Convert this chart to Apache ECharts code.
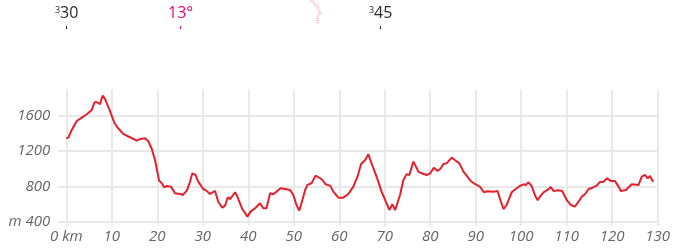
<!DOCTYPE html>
<html>
<head>
<meta charset="utf-8">
<script src="https://cdn.jsdelivr.net/npm/echarts@6/dist/echarts.min.js"></script>
<style>
html,body{margin:0;padding:0;background:#fff;}
#c{width:676px;height:249px;}
</style>
</head>
<body>
<div id="c"></div>
<script>
// distance along route (km)
var distKm = [0, 0.45, 1.2, 2.3, 3.4, 4.5, 5.6, 6.2, 6.8, 7.4, 8.0, 8.5, 9.5, 10.6, 11.4, 12.5, 14.0, 15.5, 16.3, 17.3,
  18.0, 18.8, 19.5, 20.4, 21.0, 21.5, 22.1, 23.0, 23.9, 25.0, 25.6, 26.5, 27.2, 27.7, 28.4, 29.0, 30.1, 30.8, 31.6, 32.7,
  33.4, 34.3, 34.9, 35.5, 36.0, 37.1, 37.6, 38.6, 39.8, 40.5, 41.5, 42.6, 43.3, 44.0, 44.8, 45.5, 46.2, 47.1, 48.1, 49.2,
  49.9, 50.6, 51.2, 51.7, 52.5, 53.0, 53.9, 54.8, 55.8, 56.3, 57.0, 58.0, 58.7, 59.8, 60.9, 62.0, 63.1, 64.0, 64.8, 65.7,
  66.4, 67.1, 68.2, 69.3, 70.1, 71.0, 71.7, 72.3, 73.4, 74.1, 74.8, 75.4, 76.3, 77.4, 78.1, 79.2, 80.0, 80.8, 81.6, 82.2,
  82.9, 83.6, 84.7, 85.4, 86.4, 87.3, 88.0, 88.9, 89.8, 90.9, 91.8, 92.6, 93.9, 94.8, 95.3, 96.1, 96.8, 97.9, 99.0, 99.7,
  100.5, 101.0, 101.6, 102.3, 103.0, 103.6, 104.1, 104.9, 105.8, 106.5, 107.1, 108.2, 109.0, 110.0, 110.9, 111.8, 112.6, 113.3, 114.0, 114.8,
  115.7, 116.6, 117.2, 118.1, 118.9, 119.7, 120.6, 121.4, 121.9, 123.0, 124.3, 125.8, 126.5, 127.2, 127.8, 128.3, 129.0];
// elevation (m)
var elevM = [1347, 1354, 1441, 1543, 1581, 1619, 1668, 1755, 1755, 1732, 1831, 1793, 1668, 1517, 1460, 1396, 1358, 1320, 1339, 1347,
  1316, 1225, 1100, 866, 836, 790, 805, 798, 722, 715, 703, 752, 855, 949, 930, 855, 771, 752, 715, 749,
  627, 559, 582, 677, 656, 734, 685, 553, 458, 514, 553, 610, 553, 553, 722, 711, 741, 779, 771, 760,
  703, 590, 526, 610, 760, 817, 836, 923, 893, 873, 824, 809, 741, 673, 673, 715, 798, 911, 1055, 1100,
  1165, 1062, 911, 741, 646, 533, 597, 533, 712, 873, 940, 930, 1082, 968, 949, 930, 949, 1013, 975, 998,
  1055, 1062, 1127, 1100, 1062, 968, 923, 862, 828, 798, 734, 745, 741, 749, 665, 544, 590, 734, 779, 805,
  824, 817, 847, 805, 703, 643, 684, 734, 760, 794, 749, 756, 749, 646, 590, 571, 627, 684, 711, 771,
  786, 809, 847, 854, 892, 862, 862, 798, 749, 760, 824, 817, 911, 930, 892, 919, 854];

var yTicks = [400, 800, 1200, 1600];
var xTicks = [0, 10, 20, 30, 40, 50, 60, 70, 80, 90, 100, 110, 120, 130];
var topLabels = [{sup: '3', main: '30'}, {main: '13°'}, {sup: '3', main: '45'}];

var chart = echarts.init(document.getElementById('c'), null, {renderer: 'canvas'});
var gridCol = '#e9e9e9';
var labCol = '#666666';
var pink = '#e6087f';
var dark = '#2a2a2a';

var graphics = [
  // ³30
  {type: 'text', left: 55, top: 6, style: {text: topLabels[0].sup, font: '9px "Open Sans"', fill: dark}},
  {type: 'text', left: 60, top: 5, style: {text: topLabels[0].main, font: '16px "Open Sans"', fill: dark}},
  {type: 'line', shape: {x1: 66.5, y1: 26, x2: 66.5, y2: 29}, style: {stroke: dark, lineWidth: 1}},
  // 13°
  {type: 'text', left: 168, top: 5, style: {text: topLabels[1].main, font: '16px "Open Sans"', fill: pink}},
  {type: 'line', shape: {x1: 180.5, y1: 26, x2: 180.5, y2: 29}, style: {stroke: pink, lineWidth: 1}},
  // ³45
  {type: 'text', left: 369, top: 6, style: {text: topLabels[2].sup, font: '9px "Open Sans"', fill: dark}},
  {type: 'text', left: 374, top: 5, style: {text: topLabels[2].main, font: '16px "Open Sans"', fill: dark}},
  {type: 'line', shape: {x1: 380.5, y1: 26, x2: 380.5, y2: 29}, style: {stroke: dark, lineWidth: 1}},
  // faint pink track
  {type: 'polyline', shape: {points: [[311, 0], [315, 4], [318, 8], [320, 13], [317, 18], [318, 23]]},
   style: {stroke: '#f3c4cb', lineWidth: 3, lineDash: [1, 1], fill: null}}
];

chart.setOption({
  animation: false,
  backgroundColor: '#fff',
  grid: {left: 66.3, right: 18.3, top: 89.5, bottom: 27.3},
  xAxis: {
    type: 'value', min: 0, max: 130, interval: 10,
    axisLine: {show: false},
    axisTick: {show: true, length: 4, lineStyle: {color: gridCol, width: 2}},
    splitLine: {show: true, lineStyle: {color: gridCol, width: 2}},
    axisLabel: {
      color: labCol, fontFamily: 'Open Sans', fontStyle: 'italic', fontSize: 15, margin: 8,
      formatter: function (v) { return xTicks.indexOf(v) === 0 ? v + ' km' : String(v); }
    }
  },
  yAxis: {
    type: 'value', min: 400, max: 1900, interval: 400,
    axisLine: {show: false},
    axisTick: {show: true, length: 8, lineStyle: {color: gridCol, width: 2}},
    splitLine: {show: true, showMaxLine: false, lineStyle: {color: gridCol, width: 2}},
    axisLabel: {
      color: labCol, fontFamily: 'Open Sans', fontStyle: 'italic', fontSize: 15, margin: 16,
      showMaxLabel: false,
      formatter: function (v) {
        if (yTicks.indexOf(v) < 0) return '';
        return v === yTicks[0] ? 'm ' + v : String(v);
      }
    }
  },
  series: [{
    type: 'line',
    data: distKm.map(function (d, i) { return [d, elevM[i]]; }),
    symbol: 'none',
    lineStyle: {color: '#e3202c', width: 2},
    clip: false
  }],
  graphic: graphics
});
</script>
</body>
</html>
